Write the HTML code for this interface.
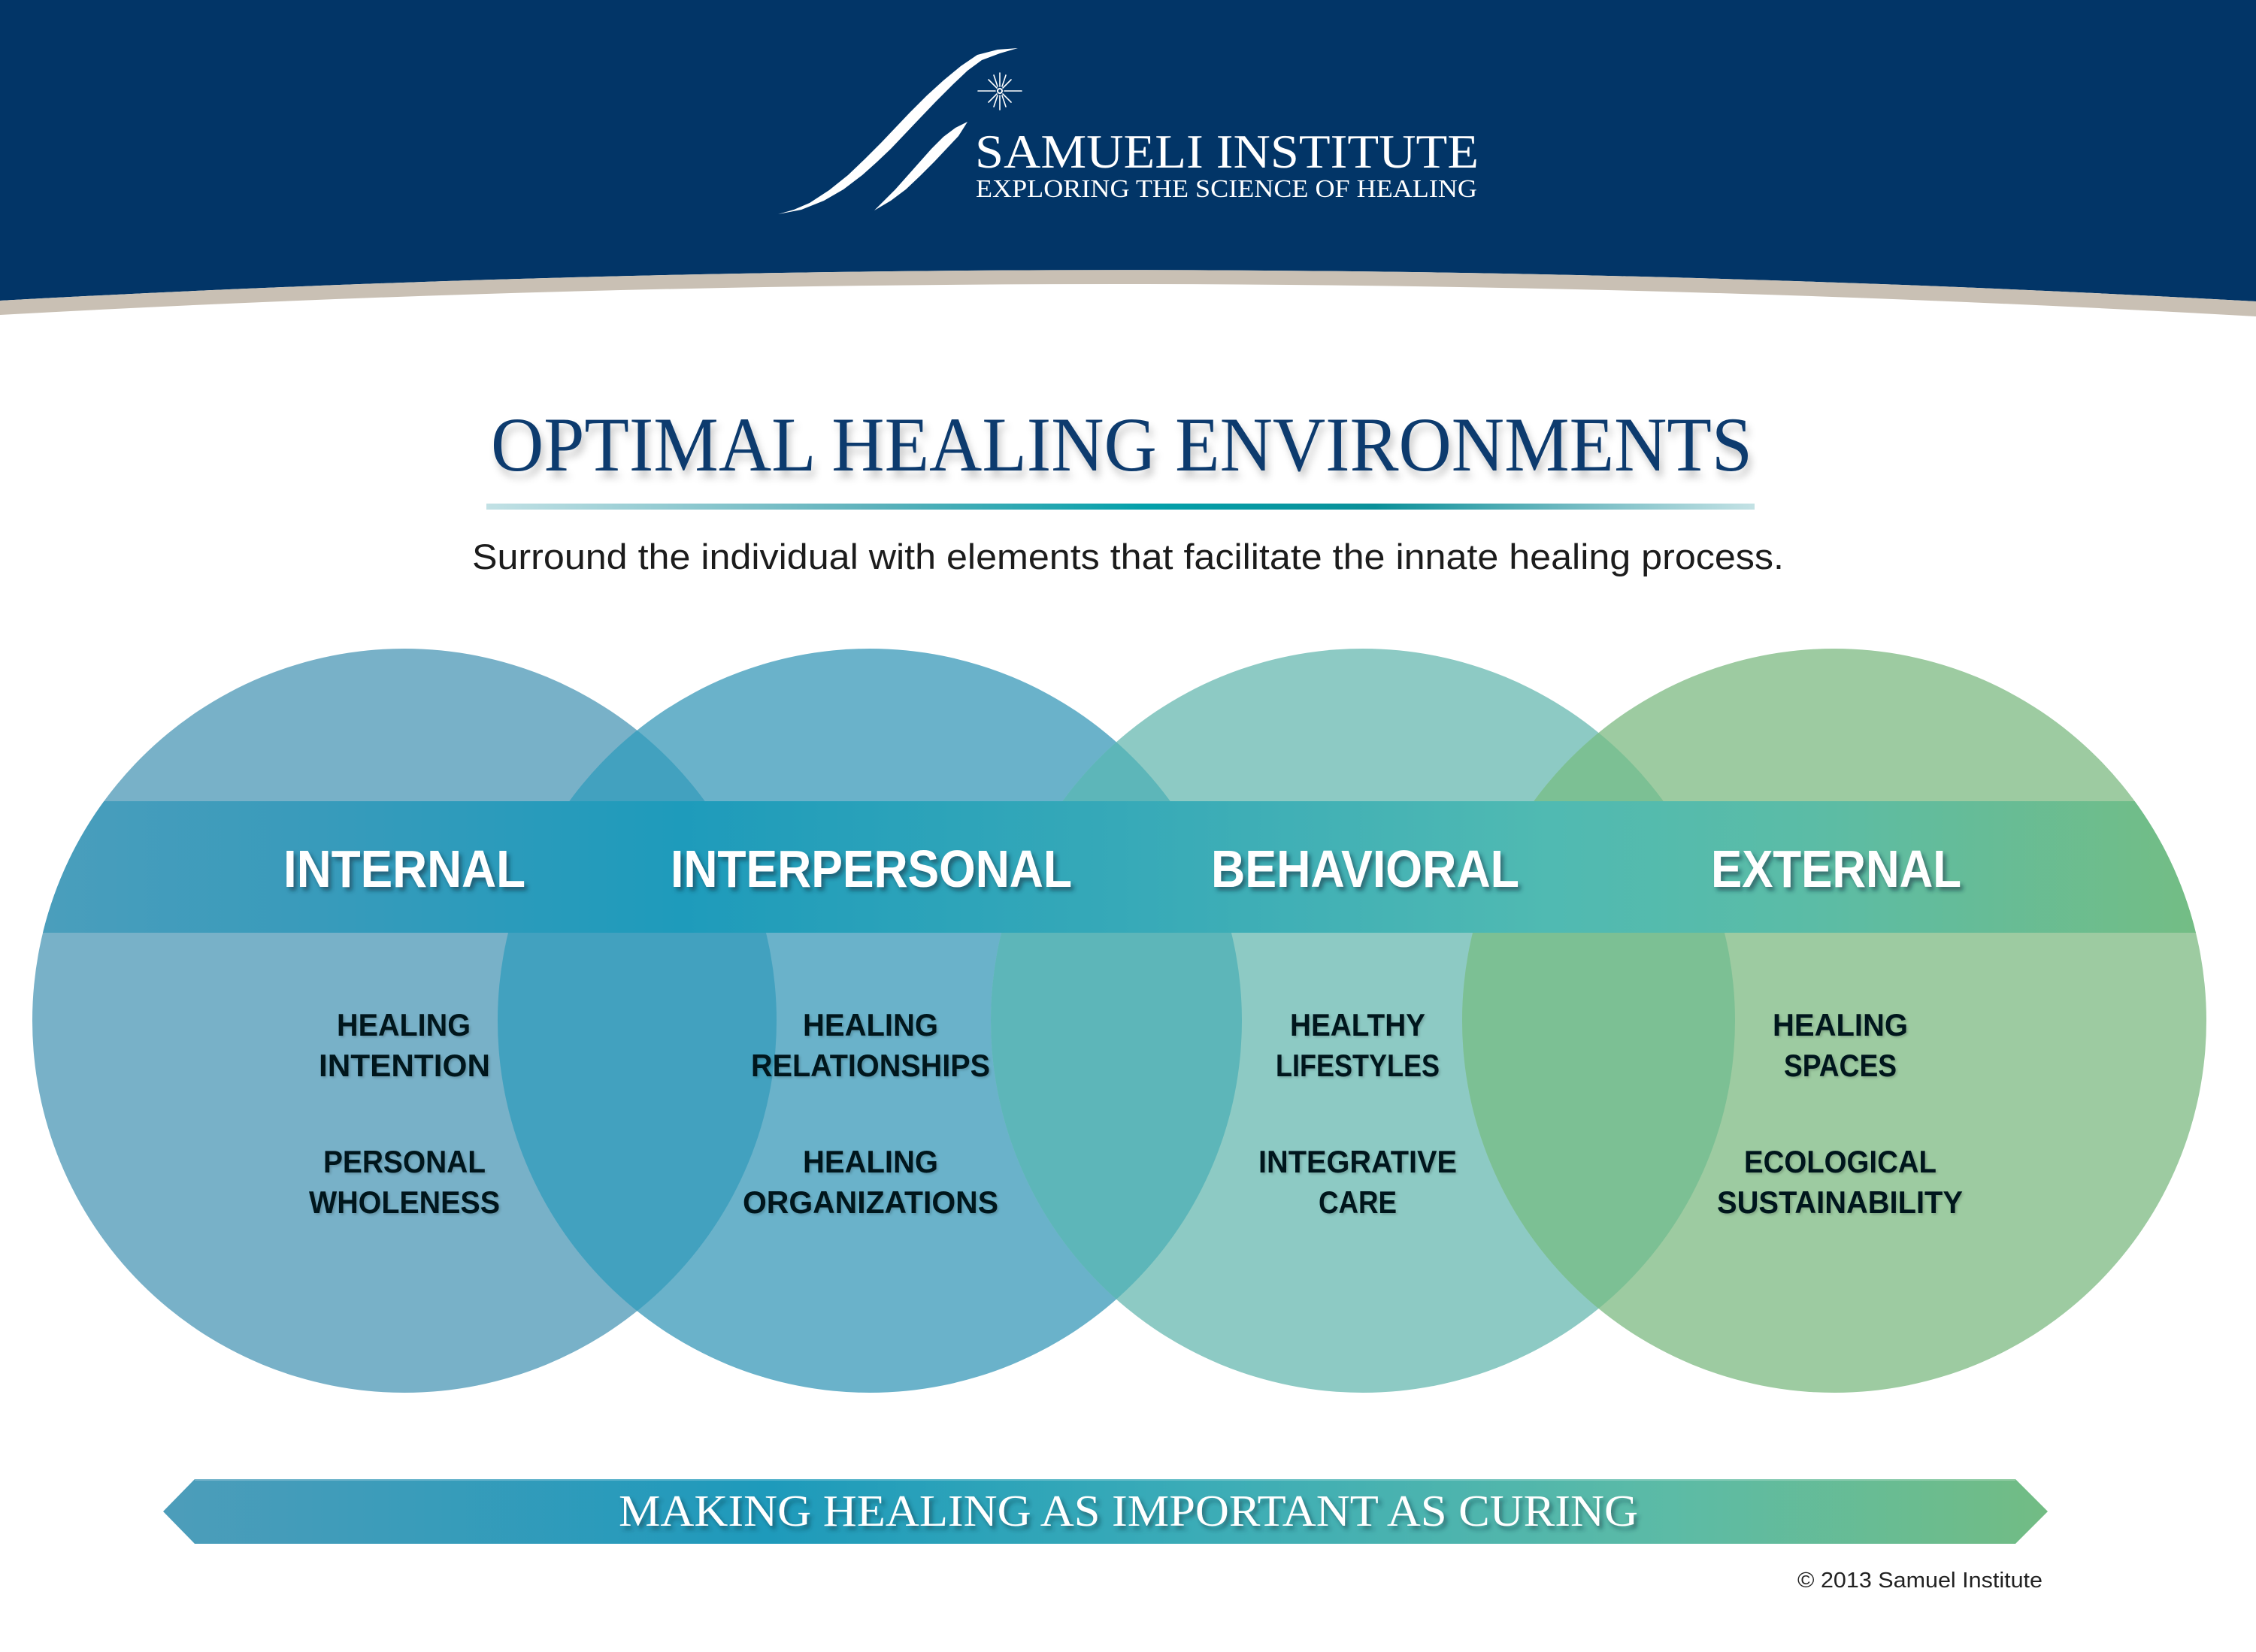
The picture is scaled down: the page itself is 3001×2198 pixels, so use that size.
<!DOCTYPE html>
<html>
<head>
<meta charset="utf-8">
<style>
  html, body { margin:0; padding:0; background:#ffffff; }
  body { width:3001px; height:2198px; overflow:hidden; }
  svg { display:block; }
</style>
</head>
<body>
<svg width="3001" height="2198" viewBox="0 0 3001 2198" xmlns="http://www.w3.org/2000/svg">
  <defs>
    <linearGradient id="lineGrad" x1="647" y1="0" x2="2335" y2="0" gradientUnits="userSpaceOnUse">
      <stop offset="0" stop-color="#C2E1E5"/>
      <stop offset="0.3" stop-color="#5FB2BC"/>
      <stop offset="0.52" stop-color="#03A0AA"/>
      <stop offset="0.7" stop-color="#0A9099"/>
      <stop offset="0.85" stop-color="#6DB8C0"/>
      <stop offset="1" stop-color="#C4E2E5"/>
    </linearGradient>
    <linearGradient id="bandGrad" x1="40" y1="0" x2="2930" y2="0" gradientUnits="userSpaceOnUse">
      <stop offset="0" stop-color="#4B9EBC"/>
      <stop offset="0.12" stop-color="#3A9BBB"/>
      <stop offset="0.3" stop-color="#1E9BBB"/>
      <stop offset="0.5" stop-color="#36A9B8"/>
      <stop offset="0.7" stop-color="#50BAB2"/>
      <stop offset="0.82" stop-color="#5BBCA6"/>
      <stop offset="1" stop-color="#74BD84"/>
    </linearGradient>
    <linearGradient id="arrowGrad" x1="217" y1="0" x2="2724" y2="0" gradientUnits="userSpaceOnUse">
      <stop offset="0" stop-color="#4D9DBA"/>
      <stop offset="0.32" stop-color="#1E9ABB"/>
      <stop offset="0.55" stop-color="#3BACB7"/>
      <stop offset="0.8" stop-color="#5CBBA6"/>
      <stop offset="1" stop-color="#72BC84"/>
    </linearGradient>
    <clipPath id="cAll">
      <circle cx="538" cy="1358" r="495"/>
      <circle cx="1157" cy="1358" r="495"/>
      <circle cx="1813" cy="1358" r="495"/>
      <circle cx="2440" cy="1358" r="495"/>
    </clipPath>
    <clipPath id="c1"><circle cx="538" cy="1358" r="495"/></clipPath>
    <clipPath id="c2"><circle cx="1157" cy="1358" r="495"/></clipPath>
    <clipPath id="c3"><circle cx="1813" cy="1358" r="495"/></clipPath>
    <filter id="titleShadow" x="-5%" y="-30%" width="110%" height="180%">
      <feDropShadow dx="4" dy="9" stdDeviation="5" flood-color="#000000" flood-opacity="0.22"/>
    </filter>
    <filter id="labelShadow" x="-5%" y="-30%" width="115%" height="180%">
      <feDropShadow dx="4" dy="5" stdDeviation="3" flood-color="#083040" flood-opacity="0.55"/>
    </filter>
    <filter id="itemShadow" x="-5%" y="-30%" width="115%" height="180%">
      <feDropShadow dx="2" dy="2" stdDeviation="1.5" flood-color="#000000" flood-opacity="0.18"/>
    </filter>
    <filter id="arrowShadow" x="-5%" y="-30%" width="110%" height="180%">
      <feDropShadow dx="4" dy="5" stdDeviation="3" flood-color="#08303d" flood-opacity="0.5"/>
    </filter>
  </defs>

  <!-- Header -->
  <rect x="0" y="0" width="3001" height="2198" fill="#ffffff"/>
  <path d="M0,0 H3001 V401 Q1500,318 0,400 Z" fill="#023567"/>
  <path d="M0,400 Q1500,318 3001,401 L3001,421 Q1500,336 0,419 Z" fill="#C9C0B4"/>

  <!-- Logo swooshes -->
  <path fill="#ffffff" d="M1035,285 L1056,279 L1077,270 L1103,253 L1128,233 L1150,212 L1172,190 L1191,170 L1210,150 L1233,127 L1255,107 L1278,88 L1300,73 L1327,66 L1354,64 L1330,71 L1306,80 L1287,94 L1268,112 L1245,135 L1223,158 L1204,178 L1185,198 L1166,216 L1147,233 L1122,252 L1096,267 L1066,279 Z"/>
  <path fill="#ffffff" d="M1163,280 L1177,266 L1191,252 L1207,234 L1223,216 L1239,198 L1255,182 L1271,170 L1287,162 L1282,170 L1275,181 L1259,198 L1243,215 L1224,234 L1205,252 L1185,267 Z"/>
  <!-- Star -->
  <g stroke="#ffffff" stroke-width="1.6" stroke-linecap="round">
    <line x1="1330" y1="97" x2="1330" y2="115"/>
    <line x1="1330" y1="127" x2="1330" y2="146"/>
    <line x1="1301" y1="121" x2="1324" y2="121"/>
    <line x1="1336" y1="121" x2="1359" y2="121"/>
    <line x1="1315" y1="106" x2="1326" y2="117"/>
    <line x1="1334" y1="125" x2="1345" y2="136"/>
    <line x1="1345" y1="106" x2="1334" y2="117"/>
    <line x1="1326" y1="125" x2="1315" y2="136"/>
    <line x1="1322" y1="100" x2="1327" y2="115"/>
    <line x1="1338" y1="100" x2="1333" y2="115"/>
    <line x1="1322" y1="142" x2="1327" y2="127"/>
    <line x1="1338" y1="142" x2="1333" y2="127"/>
  </g>
  <circle cx="1330" cy="121" r="4" fill="#ffffff"/>
  <circle cx="1330" cy="121" r="2" fill="#023567"/>

  <text x="1297" y="223" font-family="'Liberation Serif', serif" font-size="64" fill="#ffffff" textLength="670" lengthAdjust="spacingAndGlyphs">SAMUELI  INSTITUTE</text>
  <text x="1298" y="262" font-family="'Liberation Serif', serif" font-size="34" fill="#ffffff" textLength="667" lengthAdjust="spacingAndGlyphs">EXPLORING THE SCIENCE OF HEALING</text>

  <!-- Title -->
  <text x="653" y="626" font-family="'Liberation Serif', serif" font-size="103" fill="#0B3A6E" textLength="1678" lengthAdjust="spacingAndGlyphs" filter="url(#titleShadow)">OPTIMAL HEALING ENVIRONMENTS</text>
  <rect x="647" y="670" width="1687" height="8" fill="url(#lineGrad)"/>
  <text x="628" y="757" font-family="'Liberation Sans', sans-serif" font-size="47" fill="#1c1c1c" textLength="1745" lengthAdjust="spacingAndGlyphs">Surround the individual with elements that facilitate the innate healing process.</text>

  <!-- Circles -->
  <circle cx="538" cy="1358" r="495" fill="#78B1C8"/>
  <circle cx="1157" cy="1358" r="495" fill="#6AB2CA"/>
  <circle cx="1813" cy="1358" r="495" fill="#8DCAC4"/>
  <circle cx="2440" cy="1358" r="495" fill="#9DCBA1"/>
  <!-- Overlaps -->
  <circle cx="1157" cy="1358" r="495" fill="#42A1BF" clip-path="url(#c1)"/>
  <circle cx="1813" cy="1358" r="495" fill="#5DB6B9" clip-path="url(#c2)"/>
  <circle cx="2440" cy="1358" r="495" fill="#7CC094" clip-path="url(#c3)"/>

  <!-- Band -->
  <rect x="0" y="1066" width="3001" height="175" fill="url(#bandGrad)" clip-path="url(#cAll)"/>

  <!-- Band labels -->
  <g font-family="'Liberation Sans', sans-serif" font-weight="bold" font-size="70" fill="#ffffff" filter="url(#labelShadow)">
    <text x="377" y="1180" textLength="322" lengthAdjust="spacingAndGlyphs">INTERNAL</text>
    <text x="892" y="1180" textLength="534" lengthAdjust="spacingAndGlyphs">INTERPERSONAL</text>
    <text x="1611" y="1180" textLength="410" lengthAdjust="spacingAndGlyphs">BEHAVIORAL</text>
    <text x="2276" y="1180" textLength="333" lengthAdjust="spacingAndGlyphs">EXTERNAL</text>
  </g>

  <!-- Items -->
  <g font-family="'Liberation Sans', sans-serif" font-weight="bold" font-size="42" fill="#06161E" filter="url(#itemShadow)">
    <text x="448" y="1378" textLength="178" lengthAdjust="spacingAndGlyphs">HEALING</text>
    <text x="424" y="1432" textLength="228" lengthAdjust="spacingAndGlyphs">INTENTION</text>
    <text x="430" y="1560" textLength="216" lengthAdjust="spacingAndGlyphs">PERSONAL</text>
    <text x="411" y="1614" textLength="254" lengthAdjust="spacingAndGlyphs">WHOLENESS</text>

    <text x="1068" y="1378" textLength="180" lengthAdjust="spacingAndGlyphs">HEALING</text>
    <text x="999" y="1432" textLength="318" lengthAdjust="spacingAndGlyphs">RELATIONSHIPS</text>
    <text x="1068" y="1560" textLength="180" lengthAdjust="spacingAndGlyphs">HEALING</text>
    <text x="988" y="1614" textLength="340" lengthAdjust="spacingAndGlyphs">ORGANIZATIONS</text>

    <text x="1716" y="1378" textLength="180" lengthAdjust="spacingAndGlyphs">HEALTHY</text>
    <text x="1697" y="1432" textLength="218" lengthAdjust="spacingAndGlyphs">LIFESTYLES</text>
    <text x="1674" y="1560" textLength="264" lengthAdjust="spacingAndGlyphs">INTEGRATIVE</text>
    <text x="1754" y="1614" textLength="104" lengthAdjust="spacingAndGlyphs">CARE</text>

    <text x="2358" y="1378" textLength="180" lengthAdjust="spacingAndGlyphs">HEALING</text>
    <text x="2373" y="1432" textLength="150" lengthAdjust="spacingAndGlyphs">SPACES</text>
    <text x="2320" y="1560" textLength="256" lengthAdjust="spacingAndGlyphs">ECOLOGICAL</text>
    <text x="2284" y="1614" textLength="327" lengthAdjust="spacingAndGlyphs">SUSTAINABILITY</text>
  </g>

  <!-- Bottom arrow -->
  <polygon points="217,2011 259,1968 2681,1968 2724,2011 2681,2054 259,2054" fill="url(#arrowGrad)"/>
  <line x1="259" y1="1969" x2="2681" y2="1969" stroke="#ffffff" stroke-opacity="0.25" stroke-width="2"/>
  <text x="823" y="2030" font-family="'Liberation Serif', serif" font-size="59" fill="#ffffff" textLength="1356" lengthAdjust="spacingAndGlyphs" filter="url(#arrowShadow)">MAKING HEALING AS IMPORTANT AS CURING</text>

  <!-- Copyright -->
  <text x="2391" y="2112" font-family="'Liberation Sans', sans-serif" font-size="29" fill="#222222" textLength="326" lengthAdjust="spacingAndGlyphs">© 2013 Samuel Institute</text>
</svg>
</body>
</html>
